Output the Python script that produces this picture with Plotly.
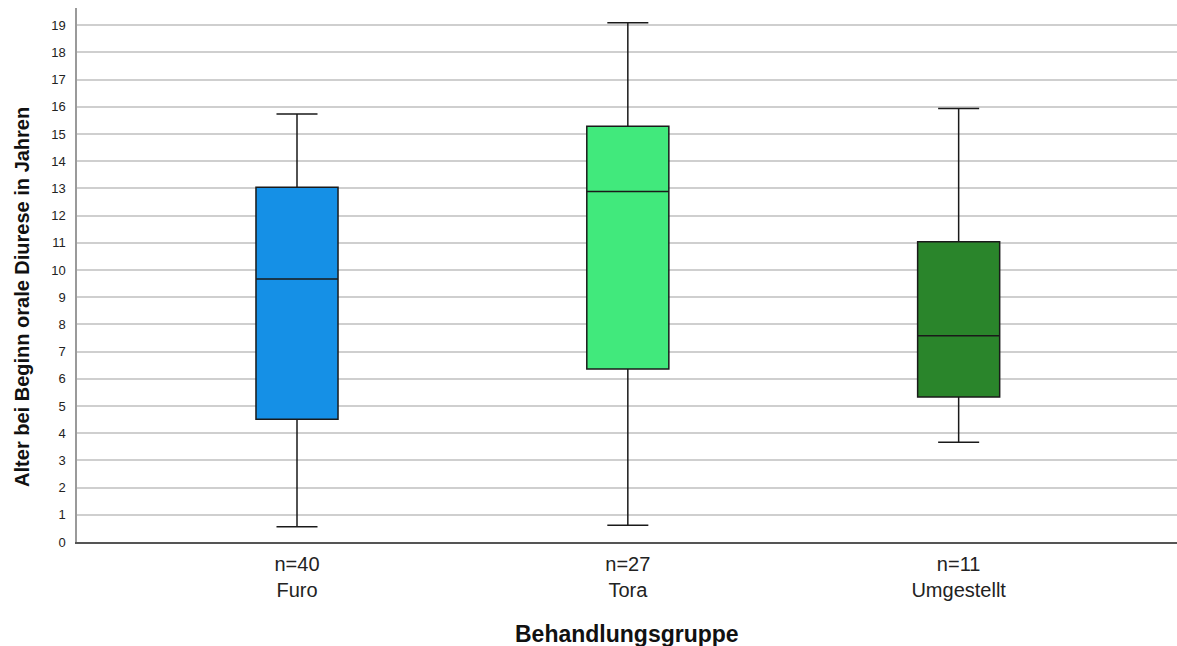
import plotly.graph_objects as go

groups = ["Furo", "Tora", "Umgestellt"]
n_counts = [40, 27, 11]
lower_whisker = [0.56, 0.62, 3.67]
q1_vals = [4.51, 6.36, 5.33]
median_vals = [9.67, 12.88, 7.58]
q3_vals = [13.04, 15.28, 11.04]
upper_whisker = [15.73, 19.09, 15.94]
colors = ["#1590e6", "#41e97c", "#2a852b"]
y_ticks = list(range(0, 20))

fig = go.Figure()
for i, g in enumerate(groups):
    fig.add_trace(go.Box(
        x=[i], q1=[q1_vals[i]], median=[median_vals[i]], q3=[q3_vals[i]],
        lowerfence=[lower_whisker[i]], upperfence=[upper_whisker[i]],
        name=g, width=0.248, whiskerwidth=0.5,
        fillcolor=colors[i],
        line=dict(color="#1a1a1a", width=1.5),
        boxpoints=False, showlegend=False,
    ))

tick_text = [f"n={n}<br>{g}" for n, g in zip(n_counts, groups)]

fig.update_layout(
    width=1177, height=646,
    margin=dict(l=77, r=0, t=8, b=104),
    paper_bgcolor="white", plot_bgcolor="white",
    font=dict(family="Liberation Sans, Arial, sans-serif", color="#000000"),
    xaxis=dict(
        range=[-0.665, 2.66], tickmode="array", tickvals=[0, 1, 2], ticktext=tick_text,
        tickfont=dict(size=20, color="#222"), showgrid=False, zeroline=False,
        showline=True, linecolor="#555555", linewidth=1.5, ticks="",
        ticklabelstandoff=3,
    ),
    yaxis=dict(
        range=[0, 19.63], tickmode="array", tickvals=y_ticks,
        tickfont=dict(size=13, color="#222"),
        showgrid=True, gridcolor="#cfcfcf", gridwidth=1.6, zeroline=False,
        showline=True, linecolor="#9a9a9a", linewidth=1.5, ticks="",
        ticklabelstandoff=7,
    ),
    annotations=[
        dict(text="<b>Alter bei Beginn orale Diurese in Jahren</b>", textangle=-90,
             xref="paper", yref="paper", x=0, y=0.459, xanchor="center", yanchor="middle",
             xshift=-55, showarrow=False, font=dict(size=20, color="#111")),
        dict(text="<b>Behandlungsgruppe</b>",
             xref="paper", yref="paper", x=0.5, y=0, xanchor="center", yanchor="middle",
             yshift=-92, showarrow=False, font=dict(size=23, color="#111")),
    ],
)

fig.write_html(
    "out.html",
    config={"displayModeBar": False},
    post_script="document.body.style.margin='0';document.body.style.overflow='hidden';",
)
